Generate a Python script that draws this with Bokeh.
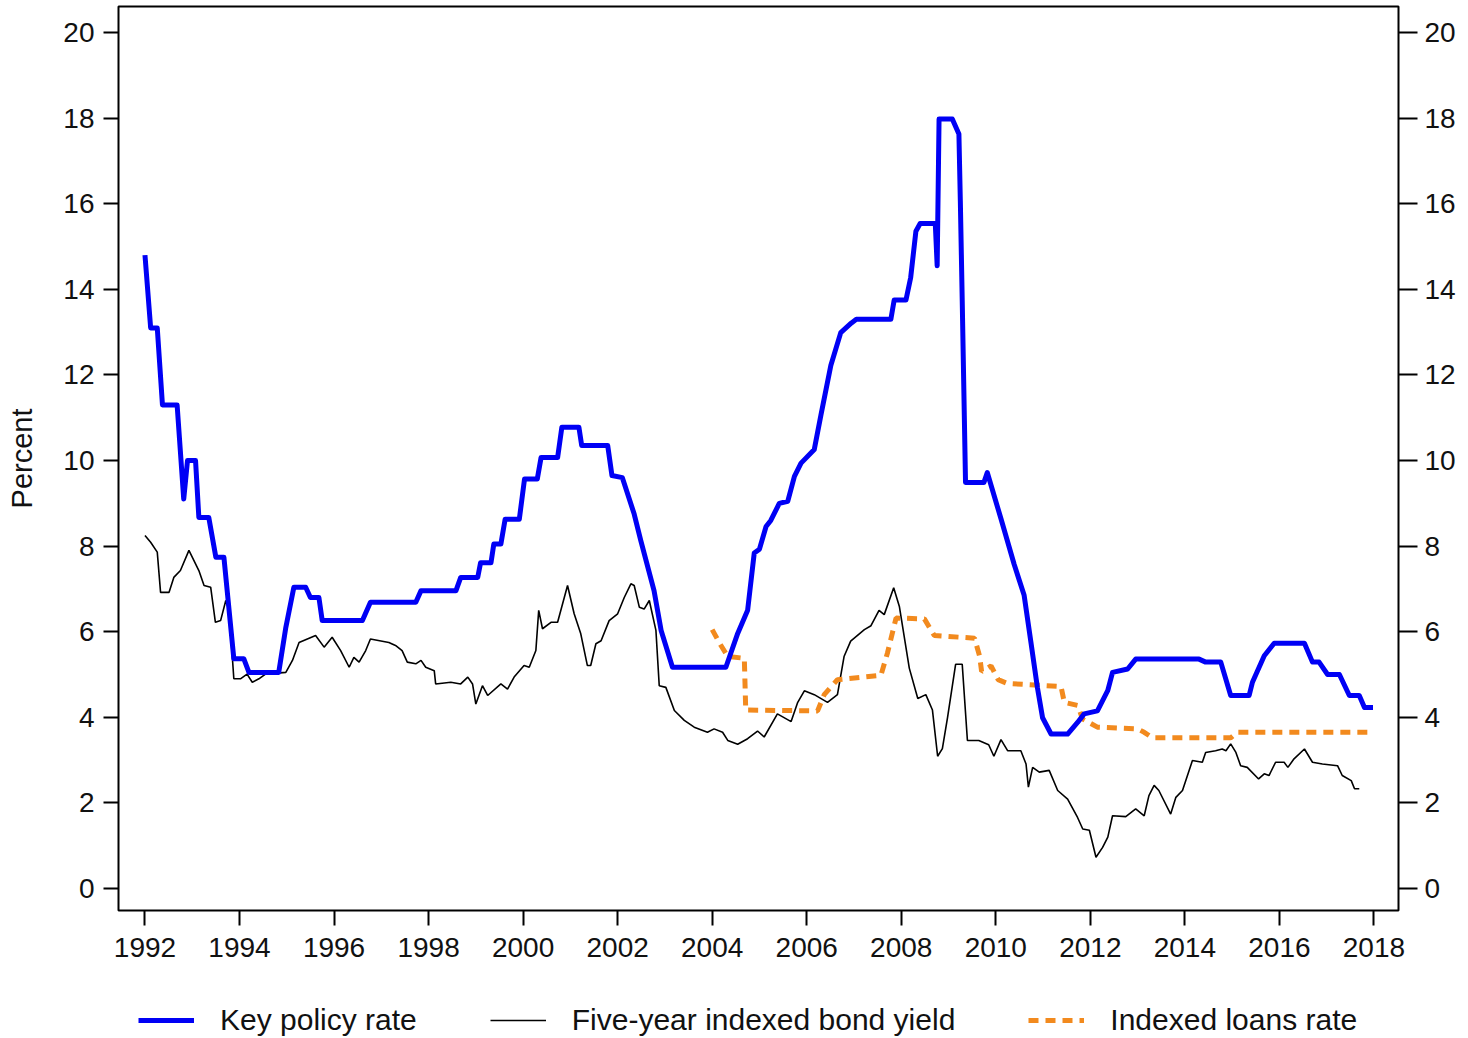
from bokeh.plotting import figure
from bokeh.layouts import column
from bokeh.models import Range1d, LinearAxis, FixedTicker, Legend, LegendItem, ColumnDataSource
from bokeh.embed import file_html
from bokeh.resources import INLINE

# ---------------- data ----------------
policy_year = [1992.00, 1992.12, 1992.26, 1992.37, 1992.68, 1992.82, 1992.90, 1993.07, 1993.14, 1993.35,
               1993.50, 1993.67, 1993.88, 1994.09, 1994.20, 1994.83, 1994.98, 1995.15, 1995.40, 1995.50,
               1995.68, 1995.75, 1996.60, 1996.77, 1997.73, 1997.84, 1998.58, 1998.68, 1999.04, 1999.10,
               1999.32, 1999.38, 1999.53, 1999.62, 1999.92, 2000.03, 2000.30, 2000.38, 2000.73, 2000.82,
               2001.18, 2001.24, 2001.79, 2001.88, 2002.10, 2002.35, 2002.49, 2002.77, 2002.92, 2003.16,
               2004.29, 2004.54, 2004.75, 2004.89, 2005.00, 2005.14, 2005.24, 2005.42, 2005.60, 2005.74,
               2005.88, 2006.16, 2006.30, 2006.51, 2006.72, 2006.94, 2007.05, 2007.78, 2007.85, 2008.10,
               2008.20, 2008.31, 2008.40, 2008.72, 2008.76, 2008.80, 2009.08, 2009.22, 2009.25, 2009.29,
               2009.36, 2009.75, 2009.82, 2010.11, 2010.39, 2010.60, 2010.74, 2010.88, 2010.99, 2011.17,
               2011.52, 2011.73, 2011.87, 2012.15, 2012.37, 2012.47, 2012.79, 2012.96, 2014.30, 2014.44,
               2014.76, 2014.97, 2015.36, 2015.43, 2015.68, 2015.89, 2016.53, 2016.70, 2016.84, 2017.02,
               2017.27, 2017.48, 2017.69, 2017.80, 2017.98]
policy_rate = [14.80, 13.10, 13.10, 11.30, 11.30, 9.10, 10.00, 10.00, 8.67, 8.67,
               7.74, 7.74, 5.37, 5.37, 5.05, 5.05, 6.10, 7.04, 7.04, 6.80,
               6.80, 6.26, 6.26, 6.69, 6.69, 6.96, 6.96, 7.27, 7.27, 7.61,
               7.61, 8.05, 8.05, 8.63, 8.63, 9.57, 9.57, 10.07, 10.07, 10.78,
               10.78, 10.35, 10.35, 9.65, 9.60, 8.75, 8.13, 6.96, 6.03, 5.17,
               5.17, 5.96, 6.50, 7.84, 7.93, 8.46, 8.60, 9.00, 9.05, 9.63,
               9.94, 10.26, 11.06, 12.22, 12.99, 13.21, 13.30, 13.30, 13.75, 13.75,
               14.28, 15.36, 15.54, 15.54, 14.55, 17.98, 17.98, 17.63, 16.07, 13.74,
               9.49, 9.49, 9.72, 8.64, 7.57, 6.85, 5.78, 4.70, 3.99, 3.61,
               3.61, 3.88, 4.08, 4.15, 4.63, 5.05, 5.13, 5.36, 5.36, 5.29,
               5.29, 4.51, 4.51, 4.82, 5.44, 5.73, 5.73, 5.29, 5.29, 5.00,
               5.00, 4.51, 4.51, 4.23, 4.23]

bond_year = [1992.00, 1992.12, 1992.26, 1992.33, 1992.51, 1992.61, 1992.75, 1992.93, 1993.14, 1993.25,
             1993.39, 1993.49, 1993.60, 1993.71, 1993.78, 1993.88, 1994.02, 1994.16, 1994.27, 1994.41,
             1994.55, 1994.98, 1995.12, 1995.26, 1995.61, 1995.79, 1995.96, 1996.14, 1996.32, 1996.42,
             1996.53, 1996.67, 1996.77, 1997.16, 1997.30, 1997.44, 1997.55, 1997.73, 1997.84, 1997.94,
             1998.12, 1998.15, 1998.47, 1998.68, 1998.83, 1998.93, 1999.00, 1999.14, 1999.25, 1999.53,
             1999.67, 1999.81, 2000.02, 2000.13, 2000.27, 2000.33, 2000.41, 2000.59, 2000.73, 2000.94,
             2001.08, 2001.22, 2001.36, 2001.43, 2001.54, 2001.65, 2001.82, 2002.00, 2002.14, 2002.28,
             2002.35, 2002.46, 2002.56, 2002.67, 2002.81, 2002.88, 2003.02, 2003.20, 2003.41, 2003.62,
             2003.90, 2004.04, 2004.22, 2004.33, 2004.54, 2004.75, 2004.96, 2005.10, 2005.38, 2005.67,
             2005.81, 2005.95, 2006.16, 2006.44, 2006.65, 2006.79, 2006.93, 2007.22, 2007.36, 2007.53,
             2007.64, 2007.84, 2007.96, 2008.17, 2008.35, 2008.52, 2008.66, 2008.77, 2008.87, 2008.98,
             2009.15, 2009.29, 2009.40, 2009.64, 2009.85, 2009.96, 2010.11, 2010.25, 2010.53, 2010.64,
             2010.69, 2010.78, 2010.92, 2011.13, 2011.31, 2011.52, 2011.73, 2011.84, 2011.98, 2012.12,
             2012.26, 2012.37, 2012.47, 2012.75, 2012.96, 2013.14, 2013.24, 2013.35, 2013.45, 2013.70,
             2013.81, 2013.95, 2014.16, 2014.37, 2014.44, 2014.65, 2014.79, 2014.87, 2014.97, 2015.08,
             2015.18, 2015.32, 2015.56, 2015.68, 2015.78, 2015.92, 2016.10, 2016.18, 2016.31, 2016.53,
             2016.70, 2016.91, 2017.23, 2017.33, 2017.52, 2017.59, 2017.69]
bond_yield = [8.25, 8.09, 7.86, 6.92, 6.92, 7.27, 7.43, 7.90, 7.43, 7.08,
              7.04, 6.22, 6.26, 6.73, 6.50, 4.90, 4.90, 5.01, 4.82, 4.90,
              5.01, 5.05, 5.33, 5.75, 5.91, 5.64, 5.87, 5.56, 5.17, 5.40,
              5.29, 5.56, 5.83, 5.75, 5.68, 5.56, 5.29, 5.25, 5.33, 5.17,
              5.09, 4.78, 4.82, 4.78, 4.94, 4.78, 4.31, 4.74, 4.51, 4.78,
              4.66, 4.94, 5.21, 5.17, 5.56, 6.50, 6.07, 6.22, 6.22, 7.08,
              6.42, 5.95, 5.21, 5.21, 5.72, 5.79, 6.26, 6.42, 6.80, 7.12,
              7.08, 6.57, 6.53, 6.73, 6.03, 4.74, 4.70, 4.16, 3.93, 3.77,
              3.65, 3.73, 3.65, 3.46, 3.37, 3.50, 3.68, 3.54, 4.08, 3.90,
              4.35, 4.62, 4.53, 4.35, 4.53, 5.42, 5.78, 6.05, 6.14, 6.50,
              6.40, 7.03, 6.59, 5.15, 4.44, 4.53, 4.17, 3.09, 3.27, 4.00,
              5.24, 5.24, 3.46, 3.46, 3.36, 3.09, 3.48, 3.22, 3.22, 2.91,
              2.37, 2.83, 2.72, 2.76, 2.29, 2.09, 1.66, 1.39, 1.36, 0.73,
              0.96, 1.20, 1.70, 1.68, 1.86, 1.70, 2.17, 2.41, 2.29, 1.74,
              2.13, 2.29, 2.99, 2.95, 3.18, 3.22, 3.26, 3.22, 3.38, 3.18,
              2.87, 2.83, 2.56, 2.68, 2.64, 2.95, 2.95, 2.83, 3.03, 3.26,
              2.95, 2.91, 2.87, 2.64, 2.52, 2.33, 2.33]

loans_year = [2004.00, 2004.18, 2004.33, 2004.68, 2004.71, 2006.23, 2006.37, 2006.58, 2006.65, 2007.57,
              2007.71, 2007.89, 2008.49, 2008.70, 2009.55, 2009.66, 2009.70, 2009.90, 2010.05, 2010.25,
              2011.38, 2011.45, 2011.73, 2011.84, 2012.15, 2013.00, 2013.14, 2013.32, 2014.97, 2015.11,
              2017.94]
loans_rate = [6.05, 5.69, 5.42, 5.38, 4.17, 4.15, 4.53, 4.79, 4.88, 4.98,
              5.51, 6.32, 6.30, 5.91, 5.85, 5.42, 5.07, 5.20, 4.88, 4.79,
              4.72, 4.35, 4.28, 3.96, 3.77, 3.73, 3.65, 3.52, 3.52, 3.65,
              3.65]

x_ticks = list(range(1992, 2019, 2))
y_ticks = list(range(0, 21, 2))

series_names = ["Key policy rate", "Five-year indexed bond yield", "Indexed loans rate"]

# ---------------- styles ----------------
FONT = "Liberation Sans"
BLUE = "#0000F5"
ORANGE = "#F28A1E"
styles = [dict(line_color=BLUE, line_width=5),
          dict(line_color="black", line_width=1.6),
          dict(line_color=ORANGE, line_width=5, line_dash="10 7")]

# ---------------- main figure ----------------
p = figure(width=1460, height=976, output_backend="svg", toolbar_location=None,
           x_range=Range1d(1991.44, 2018.52), y_range=Range1d(-0.514, 20.61),
           min_border_left=118, min_border_right=62, min_border_top=6, min_border_bottom=66)

p.background_fill_color = "white"
p.border_fill_color = "white"
p.outline_line_color = "black"
p.outline_line_width = 2
p.grid.visible = False

def style_axis(ax, tick_out):
    ax.axis_line_color = None
    ax.major_tick_line_color = "black"
    ax.major_tick_line_width = 2
    ax.major_tick_out = tick_out
    ax.major_tick_in = 0
    ax.minor_tick_line_color = None
    ax.major_label_text_font = FONT
    ax.major_label_text_font_size = "28px"
    ax.major_label_text_color = "#111111"

xa = p.xaxis[0]
xa.ticker = FixedTicker(ticks=x_ticks)
style_axis(xa, 15)
xa.major_label_standoff = 12

ya = p.yaxis[0]
ya.ticker = FixedTicker(ticks=y_ticks)
style_axis(ya, 15)
ya.major_label_standoff = 9
ya.axis_label = "Percent"
ya.axis_label_text_font = FONT
ya.axis_label_text_font_size = "29px"
ya.axis_label_text_font_style = "normal"
ya.axis_label_text_color = "#111111"
ya.axis_label_standoff = 22

ra = LinearAxis(ticker=FixedTicker(ticks=y_ticks))
style_axis(ra, 19)
ra.major_label_standoff = 7
p.add_layout(ra, "right")

src_p = ColumnDataSource(dict(x=policy_year, y=policy_rate))
src_b = ColumnDataSource(dict(x=bond_year, y=bond_yield))
src_l = ColumnDataSource(dict(x=loans_year, y=loans_rate))
sources = [src_p, src_b, src_l]

p.line("x", "y", source=src_b, **styles[1])
p.line("x", "y", source=src_l, **styles[2])
p.line("x", "y", source=src_p, line_join="round", **styles[0])

# ---------------- legend strip (frame aligned with the main plot) ----------------
lg = figure(width=1460, height=61, output_backend="svg", toolbar_location=None,
            x_range=Range1d(0, 1), y_range=Range1d(0, 1),
            min_border_left=118, min_border_right=62, min_border_top=0, min_border_bottom=0,
            x_axis_location=None, y_axis_location=None)
lg.outline_line_color = None
lg.grid.visible = False
lg.background_fill_color = "white"
lg.border_fill_color = "white"

# key renderers use the same data; their values lie outside this strip's ranges
keys = [lg.line("x", "y", source=src, **st) for src, st in zip(sources, styles)]

legend = Legend(items=[LegendItem(label=name, renderers=[r]) for name, r in zip(series_names, keys)],
                orientation="horizontal", location=(20, 0))
legend.label_text_font = FONT
legend.label_text_font_size = "30px"
legend.label_text_color = "#111111"
legend.glyph_width = 56
legend.label_standoff = 26
legend.spacing = 73
legend.border_line_color = None
legend.background_fill_alpha = 0
legend.margin = 0
legend.padding = 2
lg.add_layout(legend, "center")

layout = column(p, lg, spacing=0)

open("out.html", "w").write(file_html(layout, INLINE))
